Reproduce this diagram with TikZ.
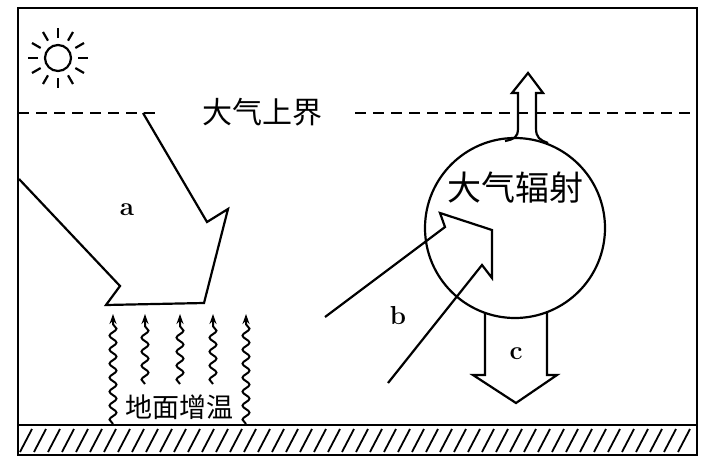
\documentclass[tikz,border=0pt]{standalone}
\usepackage{fontspec}
\newfontfamily\cjk{Noto Sans CJK SC}
\usetikzlibrary{decorations.pathmorphing,patterns,arrows.meta}
\begin{document}
\begin{tikzpicture}[x=1pt,y=-1pt,line width=2.2pt,
  lbl/.style={font=\fontsize{26}{26}\selectfont\bfseries},
  cjktxt/.style={font=\cjk\fontsize{30}{30}\selectfont},
  wave/.style={line width=2pt,decorate,decoration={snake,amplitude=3.5pt,segment length=14pt,post length=9pt},-{Stealth[length=10pt,width=7pt]}}]
\useasboundingbox (0,0) rectangle (712,466);
\draw (18,8) rectangle (697,455);
% sun
\draw (58,58) circle (13);
\foreach \a in {0,30,...,330}{\draw (58,58)++(\a:20) -- ++(\a:10);}
% dashed boundary
\draw[dash pattern=on 11pt off 7pt] (18,113) -- (158,113);
\draw[dash pattern=on 11pt off 7pt] (355,113) -- (697,113);
\node[cjktxt] (top) at (262,112) {大气上界};
% arrow a
\draw[line join=miter] (19,179) -- (120,286) -- (106,305) -- (204,303) -- (228,209) -- (207,222) -- (143,113);
\node[lbl] (a) at (127,210) {a};
% ground
\draw (18,425) -- (697,425);
\foreach \x in {20,34,...,690}{\draw[line width=1.8pt] (\x,452) -- (\x+12,429);}
% wavy arrows
\foreach \x in {145,180,213}{\draw[wave] (\x,384) -- (\x,314);}
\draw[wave] (113,424) -- (113,314);
\draw[wave] (246,424) -- (246,314);
\node[font=\cjk\fontsize{27}{27}\selectfont] (warm) at (179,407) {地面增温};
% circle
\node[circle,draw,minimum size=180pt,inner sep=0] (atm) at (515,228) {};
\node[font=\cjk\fontsize{34}{34}\selectfont] (atmt) at (515,188) {大气辐射};
% up arrow
\draw[line join=miter] (505,141) .. controls (514,139) and (518,138) .. (518,128) -- (518,93) -- (512,93) -- (528,73) -- (543,93) -- (536,93) -- (536,128) .. controls (536,138) and (540,140) .. (548,143);
% down arrow c
\draw[line join=miter] (485,313) -- (485,375) -- (473,375) -- (516,403) -- (557,375) -- (547,375) -- (547,312);
\node[lbl] (c) at (516,354) {c};
% arrow b
\draw[line join=miter] (325,317) -- (445,227) -- (440,213) -- (492,230) -- (492,278) -- (482,265) -- (388,383);
\node[lbl] (b) at (398,316) {b};
\end{tikzpicture}
\end{document}
